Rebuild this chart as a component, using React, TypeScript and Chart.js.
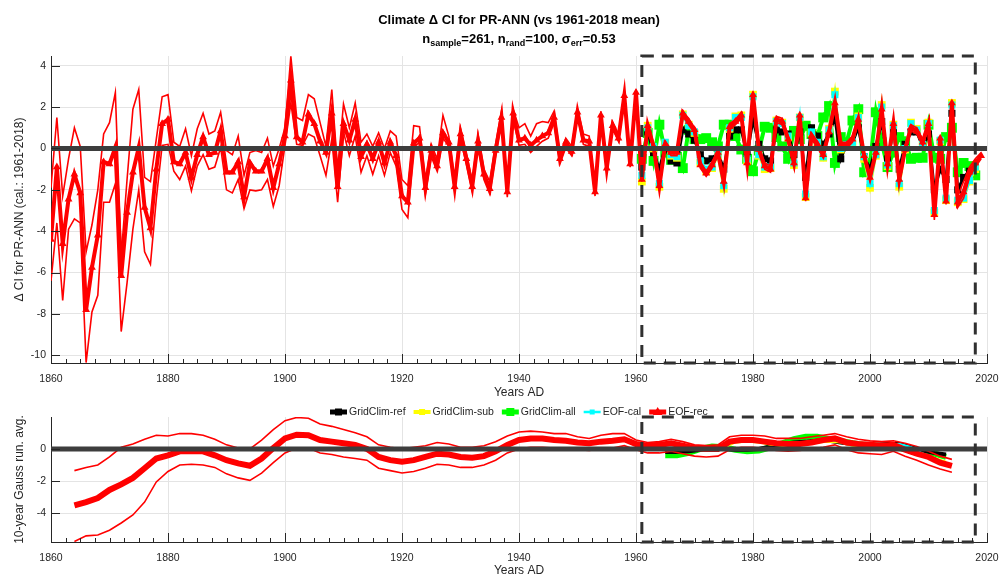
import React, { useEffect, useRef } from 'react';
import { Chart, registerables } from 'chart.js';

Chart.register(...registerables);

// ---------- text ----------
const TITLE = 'Climate \u0394 CI for PR-ANN (vs 1961-2018 mean)';
const N_SAMPLE = 261;
const N_RAND = 100;
const SIGMA_ERR = 0.53;
const TOP_Y_TITLE = '\u0394 CI for PR-ANN (cal.: 1961-2018)';
const BOTTOM_Y_TITLE = '10-year Gauss run. avg.';
const X_TITLE = 'Years AD';
const LEGEND_LABELS = ['GridClim-ref', 'GridClim-sub', 'GridClim-all', 'EOF-cal', 'EOF-rec'];

// ---------- axes ----------
const X_MIN = 1860;
const X_MAX = 2020;
const X_TICKS = [1860, 1880, 1900, 1920, 1940, 1960, 1980, 2000, 2020];
const TOP_Y_MIN = -10.37;
const TOP_Y_MAX = 4.47;
const TOP_Y_TICKS = [-10, -8, -6, -4, -2, 0, 2, 4];
const BOT_Y_MIN = -5.78;
const BOT_Y_MAX = 1.98;
const BOT_Y_TICKS = [-4, -2, 0];
const CAL_FROM = 1961;
const CAL_TO = 2018;

// ---------- annual reconstruction (EOF-rec), 1860-2019 ----------
const REC_START = 1860;
const REC_MEAN = [
  -4.4, -0.9, -4.6, -2.45, -1.25, -2.15, -7.8, -5.75, -4.2, -0.65,
  -0.75, 0.05, -6.15, -3.1, -1.15, 0.05, -2.85, -3.85, -1.0, 1.2,
  1.4, -0.65, -0.75, -0.2, -1.4, -0.3, 0.55, -0.3, -0.2, 0.85,
  -1.15, -1.15, -0.65, -2.35, -0.7, -1.1, -1.1, -0.5, -1.9, -0.75,
  0.6, 3.3, 0.55, 0.3, 1.65, 1.2, 0.35, -0.2, 1.7, -1.85,
  1.2, 0.4, 1.4, -0.4, 0.2, -0.5, 0.3, -0.7, 0.3, -0.35,
  -2.3, -2.6, 0.25, 0.5, -1.9, -0.1, -0.85, 0.75, 0.3, -1.85,
  0.7, -0.5, -1.85, 0.35, -1.25, -1.95, -0.1, 1.5, -2.1, 1.7,
  0.4, 0.5, 0.15, 0.4, 0.6, 0.75, 1.5, -0.5, 0.3, -0.15,
  1.75, 0.4, 0.35, -2.1, 1.6, -0.95, 1.1, 0.5, 2.55, -0.75,
  2.7, -1.5, 1.1, 0.1, -1.8, 0.2, -0.2, -0.2, 1.7, 1.3,
  0.9, -0.8, -1.2, -0.8, -0.2, -1.6, 1.05, 1.3, 1.6, -0.7,
  2.6, -0.05, -0.85, -1.0, 1.4, 1.3, 0.45, -0.7, 1.6, -2.4,
  0.6, 0.2, -0.3, 0.8, 2.2, 0.2, 0.15, 0.45, 1.4, -0.35,
  -1.4, -0.2, 1.9, -0.75, 1.2, -1.5, -0.05, 1.0, 0.85, 0.3,
  1.2, -3.2, 0.5, -2.55, 2.2, -2.6, -2.1, -1.15, -0.7, -0.35,
];
const REC_UPPER = [
  -1.9, 1.5, -2.3, -0.5, 1.0, 0.1, -5.0, -3.7, -2.0, 0.7,
  1.25, 2.7, -5.2, -1.5, 1.9, 2.85, -1.4, -1.6, 0.45, 2.5,
  2.6, 0.3, 0.1, 0.95, -0.35, 0.95, 1.7, 0.7, 0.85, 1.75,
  -0.1, -0.3, 0.6, -1.3, -0.2, -0.1, -0.2, 0.5, -0.85, 0.0,
  1.0, 4.45, 1.5, 1.35, 2.6, 2.4, 1.25, 0.1, 2.85, -1.0,
  2.15, 1.0, 2.2, 0.3, 0.7, 0.1, 0.75, 0.0, 0.85, 0.6,
  -1.5, -1.8, 1.1, 1.05, -1.6, 0.2, -0.5, 1.6, 0.6, -1.5,
  1.0, -0.2, -1.6, 0.7, -1.0, -1.6, 0.2, 1.8, -1.8, 1.9,
  1.0, 1.2, 0.6, 1.2, 1.3, 1.25, 1.8, -0.3, 0.5, 0.1,
  1.9, 0.7, 0.6, -1.9, 1.8, -0.8, 1.3, 0.7, 2.7, -0.6,
  2.85, -1.4, 1.2, 0.25, -1.7, 0.35, -0.05, -0.05, 1.8, 1.45,
  1.0, -0.65, -1.1, -0.65, -0.1, -1.5, 1.2, 1.4, 1.75, -0.6,
  2.75, 0.1, -0.7, -0.85, 1.55, 1.45, 0.6, -0.6, 1.7, -2.3,
  0.75, 0.35, -0.15, 0.95, 2.35, 0.3, 0.3, 0.6, 1.5, -0.2,
  -1.3, -0.05, 2.0, -0.6, 1.35, -1.4, 0.1, 1.15, 1.0, 0.45,
  1.3, -3.05, 0.6, -2.4, 2.3, -2.3, -1.6, -0.9, -0.5, -0.2,
];
const REC_LOWER = [
  -6.4, -3.6, -7.35, -3.9, -3.4, -3.6, -10.35, -7.9, -7.1, -2.6,
  -2.6, -1.7, -8.85, -6.5, -3.9, -2.0, -5.0, -5.6, -2.45, 0.15,
  0.2, -1.1, -1.5, -0.85, -2.05, -0.85, -0.3, -1.0, -0.9, 0.05,
  -2.0, -2.15, -1.5, -2.9, -2.0, -2.05, -2.0, -1.5, -2.8, -1.8,
  0.15, 2.2, 0.2, 0.15, 0.7, 0.55, -0.35, -1.3, 0.45, -2.6,
  0.8, -0.35, 0.6, -1.15, -0.35, -1.25, -0.35, -1.3, -0.2, -0.85,
  -2.95, -3.35, 0.05, 0.3, -2.2, -0.4, -1.1, 0.5, 0.1, -2.05,
  0.45, -0.75, -2.05, 0.1, -1.5, -2.2, -0.35, 1.3, -2.35, 1.45,
  0.15, 0.2, -0.2, 0.1, 0.35, 0.5, 1.25, -0.75, 0.05, -0.35,
  1.55, 0.2, 0.1, -2.3, 1.4, -1.1, 0.95, 0.35, 2.4, -0.9,
  2.55, -1.6, 0.95, -0.05, -1.95, 0.05, -0.35, -0.35, 1.55, 1.15,
  0.75, -0.95, -1.35, -0.95, -0.35, -1.75, 0.9, 1.15, 1.45, -0.85,
  2.45, -0.2, -1.0, -1.15, 1.25, 1.15, 0.3, -0.85, 1.45, -2.55,
  0.45, 0.05, -0.45, 0.65, 2.05, 0.05, 0.0, 0.3, 1.25, -0.5,
  -1.55, -0.35, 1.75, -0.9, 1.05, -1.65, -0.2, 0.85, 0.7, 0.15,
  1.05, -3.45, 0.3, -2.7, 2.05, -2.85, -2.4, -1.4, -0.9, -0.5,
];

// ---------- calibration period series, 1961-2018 ----------
const CAL_START = 1961;
const CAL_EOF = [
  -1.3, 1.0, 0.1, -1.7, 0.3, -0.3, -0.4, 1.6, 1.1, 0.8,
  -0.6, -1.0, -0.9, -0.3, -1.8, 1.0, 1.5, 1.5, -0.5, 2.5,
  -0.3, -0.9, -0.9, 1.3, 1.2, 0.6, -0.7, 1.5, -2.2, 0.8,
  0.3, -0.4, 0.9, 2.6, 0.0, 0.2, 0.3, 1.5, -0.4, -1.7,
  -0.3, 2.0, -0.8, 1.1, -1.7, 0.0, 1.2, 0.9, 0.2, 1.2,
  -3.0, 0.4, -2.4, 2.1, -2.5, -2.4, -1.55, -0.9,
];
const CAL_SUB = [
  -1.6, 1.1, 0.0, -1.85, 0.25, -0.35, -0.45, 1.65, 1.15, 0.75,
  -0.7, -1.1, -0.95, -0.35, -1.95, 0.95, 1.55, 1.6, -0.6, 2.6,
  -0.35, -1.0, -0.95, 1.35, 1.25, 0.55, -0.8, 1.5, -2.35, 0.75,
  0.25, -0.45, 0.95, 2.75, -0.05, 0.15, 0.25, 1.55, -0.5, -1.9,
  -0.35, 2.1, -0.85, 1.15, -1.85, -0.05, 1.25, 0.95, 0.15, 1.25,
  -3.1, 0.35, -2.5, 2.2, -2.6, -2.45, -1.6, -1.0,
];
const CAL_REF = [
  -0.9, 0.8, -0.2, -1.0, 0.1, -0.6, -0.7, 0.9, 0.7, 0.4,
  -0.3, -0.6, -0.5, -0.2, -1.0, 0.6, 0.9, 0.9, -0.3, 1.4,
  0.2, -0.5, -0.6, 0.9, 0.8, 0.7, -0.3, 0.8, -1.4, 1.0,
  0.6, 0.2, 0.7, 1.5, -0.5, 0.2, 0.3, 1.0, -0.4, -1.0,
  0.1, 1.3, -0.5, 0.8, -1.0, 0.2, 0.8, 0.8, 0.1, 0.7,
  -2.0, -1.0, -1.5, 1.7, -2.0, -1.4, -1.1, -0.9,
];
const CAL_ALL = [
  -0.5, 0.75, -0.6, 1.15, -0.2, -0.55, -0.4, -0.95, 0.9, 0.45,
  0.45, 0.5, 0.3, 0.1, 1.15, 1.15, 0.6, -0.05, -0.5, -1.1,
  -0.1, 1.05, 1.0, 0.55, 0.1, -0.5, 0.85, 0.45, 1.1, 0.7,
  0.6, 1.5, 2.05, -0.7, 0.55, 0.3, 1.35, 1.9, -1.15, -0.7,
  1.75, 0.3, -0.9, -0.2, 0.55, 0.35, -0.5, -0.45, -0.45, 1.15,
  -0.45, -0.5, 0.55, 1.0, -1.15, -0.7, -0.85, -1.3,
];

// ---------- 10-year Gauss running averages (every 2 years), 1864-2014 ----------
const RUN_START = 1864;
const RUN_STEP = 2;
const RUN_MEAN = [
  -3.5, -3.3, -3.05, -2.55, -2.2, -1.8, -1.2, -0.6, -0.4, -0.15,
  -0.15, -0.15, -0.4, -0.7, -0.9, -1.05, -0.6, 0.05, 0.65, 0.88,
  0.85, 0.55, 0.45, 0.35, 0.25, 0.0, -0.5, -0.7, -0.8, -0.7,
  -0.5, -0.3, -0.35, -0.5, -0.55, -0.45, -0.15, 0.25, 0.55, 0.65,
  0.65, 0.55, 0.5, 0.4, 0.35, 0.45, 0.5, 0.6, 0.3, 0.2,
  0.25, 0.35, 0.2, 0.05, 0.0, 0.0, 0.45, 0.55, 0.55, 0.45,
  0.35, 0.3, 0.3, 0.4, 0.55, 0.65, 0.4, 0.3, 0.25, 0.2,
  0.25, -0.05, -0.3, -0.5, -0.85, -1.05,
];
const RUN_UPPER = [
  -1.35, -1.15, -1.0, -0.5, 0.1, 0.3, 0.6, 0.85, 0.8, 0.95,
  0.95, 0.85, 0.6, 0.25, 0.05, 0.0, 0.55, 1.2, 1.75, 1.95,
  1.9, 1.55, 1.4, 1.2, 1.0, 0.75, 0.25, 0.1, 0.0, 0.1,
  0.2, 0.4, 0.3, 0.1, 0.1, 0.2, 0.45, 0.8, 1.05, 1.1,
  1.05, 0.95, 0.95, 0.75, 0.65, 0.85, 0.95, 0.95, 0.55, 0.4,
  0.45, 0.6, 0.45, 0.25, 0.2, 0.25, 0.75, 0.85, 0.85, 0.8,
  0.65, 0.65, 0.65, 0.75, 0.85, 0.95, 0.75, 0.6, 0.5, 0.45,
  0.5, 0.35, 0.15, -0.15, -0.45, -0.65,
];
const RUN_LOWER = [
  -5.75, -5.4, -5.35, -5.05, -4.6, -4.1, -3.3, -2.05, -1.4, -1.0,
  -0.95, -1.0, -1.15, -1.55, -1.8, -1.95, -1.5, -0.85, -0.25, 0.05,
  0.05, -0.25, -0.35, -0.5, -0.6, -0.7, -1.2, -1.35, -1.5, -1.4,
  -1.2, -0.95, -1.0, -1.15, -1.15, -1.0, -0.7, -0.25, 0.0, 0.1,
  0.1, 0.05, 0.0, -0.05, -0.1, 0.0, 0.05, 0.2, -0.05, -0.25,
  -0.25, -0.15, -0.3, -0.45, -0.5, -0.45, -0.05, 0.1, 0.1, 0.0,
  -0.1, -0.15, -0.1, 0.0, 0.1, 0.25, -0.05, -0.25, -0.3, -0.35,
  -0.15, -0.45, -0.7, -1.0, -1.25, -1.45,
];
const RUN_CAL_START = 1965;
const RUN_CAL_ALL = [
  -0.4, -0.4, -0.25, 0.0, 0.15, 0.1, -0.05, -0.15, -0.1, 0.1,
  0.35, 0.6, 0.75, 0.75, 0.6, 0.5, 0.35, 0.25, 0.2, 0.15,
  0.05, -0.05, -0.2, -0.3, -0.5,
];
const RUN_CAL_EOF = [
  0.05, 0.1, 0.0, 0.0, 0.05, 0.1, 0.55, 0.6, 0.55, 0.35,
  0.3, 0.3, 0.4, 0.45, 0.55, 0.5, 0.4, 0.3, 0.25, 0.25,
  0.3, 0.1, -0.3, -0.6, -0.9,
];
const RUN_CAL_REF = [
  -0.2, -0.2, -0.15, -0.05, 0.0, 0.0, -0.05, -0.05, 0.0, 0.15,
  0.3, 0.4, 0.45, 0.5, 0.5, 0.4, 0.3, 0.3, 0.25, 0.3,
  0.3, 0.1, -0.1, -0.25, -0.35,
];
const RUN_CAL_SUB = [
  0.0, 0.05, -0.05, -0.05, 0.0, 0.05, 0.4, 0.45, 0.4, 0.25,
  0.2, 0.2, 0.3, 0.4, 0.45, 0.4, 0.2, 0.1, 0.0, 0.05,
  0.15, 0.0, -0.3, -0.55, -0.8,
];

// ---------- styling ----------
const FONT = '"Liberation Sans", Arial, Helvetica, sans-serif';
const TEXT = '#262626';
const GRID = '#e4e4e4';
const RED = '#ff0000';
const GREEN = '#00ff00';
const CYAN = '#00ffff';
const YELLOW = '#ffff00';
const BLACK = '#000000';

const pts = (start: number, step: number, vals: number[]) =>
  vals.map((v, i) => ({ x: start + i * step, y: v }));

function drawMarker(ctx: CanvasRenderingContext2D, kind: string, x: number, y: number, s: number, color: string) {
  ctx.fillStyle = color;
  ctx.beginPath();
  if (kind === 'triangle') {
    ctx.moveTo(x, y - s);
    ctx.lineTo(x + s * 0.95, y + s * 0.6);
    ctx.lineTo(x - s * 0.95, y + s * 0.6);
    ctx.closePath();
  } else {
    ctx.rect(x - s, y - s, 2 * s, 2 * s);
  }
  ctx.fill();
}

const axisTicksPlugin = {
  id: 'axisTicks',
  afterDraw(chart: any) {
    const { ctx, chartArea: a, scales } = chart;
    const x = scales.x;
    const y = scales.y;
    ctx.save();
    ctx.strokeStyle = TEXT;
    ctx.lineWidth = 1;
    ctx.beginPath();
    X_TICKS.forEach((v) => {
      const px = Math.round(x.getPixelForValue(v)) + 0.5;
      ctx.moveTo(px, a.bottom);
      ctx.lineTo(px, a.bottom - 9);
    });
    for (let v = X_MIN; v <= X_MAX; v += 2.5) {
      const px = Math.round(x.getPixelForValue(v)) + 0.5;
      ctx.moveTo(px, a.bottom);
      ctx.lineTo(px, a.bottom - 4);
    }
    y.ticks.forEach((t: any) => {
      const py = Math.round(y.getPixelForValue(t.value)) + 0.5;
      ctx.moveTo(a.left, py);
      ctx.lineTo(a.left + 9, py);
    });
    ctx.stroke();
    ctx.restore();
  },
};

const overlayPlugin = {
  id: 'overlay',
  afterDatasetsDraw(chart: any) {
    const { ctx, chartArea: a, scales } = chart;
    const x = scales.x;
    const y = scales.y;
    ctx.save();
    const y0 = y.getPixelForValue(0);
    ctx.strokeStyle = '#3d3d3d';
    ctx.lineWidth = 5;
    ctx.beginPath();
    ctx.moveTo(a.left, y0);
    ctx.lineTo(a.right, y0);
    ctx.stroke();
    const x1 = x.getPixelForValue(CAL_FROM);
    const x2 = x.getPixelForValue(CAL_TO);
    ctx.strokeStyle = '#303030';
    ctx.lineWidth = 3;
    ctx.setLineDash([12, 8]);
    ctx.strokeRect(x1, a.top, x2 - x1, a.bottom - a.top);
    ctx.restore();
  },
};

const LEGEND_STYLES = [
  { color: BLACK, lw: 5, marker: 'rect', ms: 3.5 },
  { color: YELLOW, lw: 4, marker: 'rect', ms: 3 },
  { color: GREEN, lw: 5, marker: 'rect', ms: 4 },
  { color: CYAN, lw: 2.5, marker: 'rect', ms: 2.5 },
  { color: RED, lw: 5, marker: 'triangle', ms: 5 },
];

const legendPlugin = {
  id: 'mlLegend',
  afterDraw(chart: any) {
    const ctx = chart.ctx;
    ctx.save();
    ctx.font = `10.5px ${FONT}`;
    ctx.textBaseline = 'middle';
    let x = 330;
    const y = 12;
    LEGEND_LABELS.forEach((label, i) => {
      const st = LEGEND_STYLES[i];
      ctx.strokeStyle = st.color;
      ctx.lineWidth = st.lw;
      ctx.beginPath();
      ctx.moveTo(x, y);
      ctx.lineTo(x + 17, y);
      ctx.stroke();
      drawMarker(ctx, st.marker, x + 8.5, y, st.ms, st.color);
      ctx.fillStyle = TEXT;
      ctx.fillText(label, x + 19, y);
      x += 19 + ctx.measureText(label).width + 8;
    });
    ctx.restore();
  },
};

function makeScales(yMin: number, yMax: number, yTicks: number[], yTitle: string, xHeight: number, xTitleLH: number) {
  const tickFont = { family: FONT, size: 10.5 };
  const titleFont = { family: FONT, size: 12 };
  return {
    x: {
      type: 'linear',
      min: X_MIN,
      max: X_MAX,
      afterBuildTicks: (s: any) => { s.ticks = X_TICKS.map((v) => ({ value: v })); },
      afterFit: (s: any) => { s.height = xHeight; s.paddingLeft = 0; s.paddingRight = 0; },
      grid: { color: GRID, lineWidth: 1, drawTicks: false },
      border: { display: true, color: TEXT, width: 1 },
      ticks: { font: tickFont, color: TEXT, padding: 9.5, maxRotation: 0, autoSkip: false, callback: (v: any) => String(v) },
      title: { display: true, text: X_TITLE, font: { ...titleFont, lineHeight: xTitleLH }, color: TEXT, padding: 0 },
    },
    y: {
      type: 'linear',
      min: yMin,
      max: yMax,
      afterBuildTicks: (s: any) => { s.ticks = yTicks.map((v) => ({ value: v })); },
      afterFit: (s: any) => { s.width = 51; s.paddingTop = 0; s.paddingBottom = 0; },
      grid: { color: GRID, lineWidth: 1, drawTicks: false },
      border: { display: true, color: TEXT, width: 1 },
      ticks: { font: tickFont, color: TEXT, padding: 5, callback: (v: any) => String(v) },
      title: { display: true, text: yTitle, font: titleFont, color: TEXT, padding: { top: 12, bottom: 0 } },
    },
  };
}

export default function App() {
  const topRef = useRef<HTMLCanvasElement>(null);
  const botRef = useRef<HTMLCanvasElement>(null);

  useEffect(() => {
    const common = {
      responsive: false,
      animation: false,
      devicePixelRatio: 1,
      plugins: { legend: { display: false }, tooltip: { enabled: false }, title: { display: false } },
      elements: { line: { tension: 0 } },
      events: [],
    };

    const top = new Chart(topRef.current as HTMLCanvasElement, {
      type: 'line',
      data: {
        datasets: [
          { label: 'EOF-rec', data: pts(REC_START, 1, REC_MEAN), borderColor: RED, backgroundColor: RED, borderWidth: 4, pointStyle: 'triangle', pointRadius: 4.5, pointBorderWidth: 0, pointBackgroundColor: RED },
          { label: 'EOF-rec upper', data: pts(REC_START, 1, REC_UPPER), borderColor: RED, borderWidth: 1.6, pointRadius: 0 },
          { label: 'EOF-rec lower', data: pts(REC_START, 1, REC_LOWER), borderColor: RED, borderWidth: 1.6, pointRadius: 0 },
          { label: 'EOF-cal', data: pts(CAL_START, 1, CAL_EOF), borderColor: CYAN, backgroundColor: CYAN, borderWidth: 2.5, pointStyle: 'rect', pointRadius: 5, pointBorderWidth: 0 },
          { label: 'GridClim-sub', data: pts(CAL_START, 1, CAL_SUB), borderColor: YELLOW, backgroundColor: YELLOW, borderWidth: 2.5, pointStyle: 'rect', pointRadius: 5.5, pointBorderWidth: 0 },
          { label: 'GridClim-ref', data: pts(CAL_START, 1, CAL_REF), borderColor: BLACK, backgroundColor: BLACK, borderWidth: 3, pointStyle: 'rect', pointRadius: 5, pointBorderWidth: 0 },
          { label: 'GridClim-all', data: pts(CAL_START, 1, CAL_ALL), borderColor: GREEN, backgroundColor: GREEN, borderWidth: 4, pointStyle: 'rect', pointRadius: 7, pointBorderWidth: 0 },
        ],
      },
      options: {
        ...common,
        layout: { padding: { left: 0, right: 13, top: 56, bottom: 0 } },
        scales: makeScales(TOP_Y_MIN, TOP_Y_MAX, TOP_Y_TICKS, TOP_Y_TITLE, 37, 1.2),
      } as any,
      plugins: [overlayPlugin, axisTicksPlugin],
    } as any);

    const bot = new Chart(botRef.current as HTMLCanvasElement, {
      type: 'line',
      data: {
        datasets: [
          { label: 'EOF-rec', data: pts(RUN_START, RUN_STEP, RUN_MEAN), borderColor: RED, borderWidth: 6, pointRadius: 0 },
          { label: 'EOF-rec upper', data: pts(RUN_START, RUN_STEP, RUN_UPPER), borderColor: RED, borderWidth: 1.6, pointRadius: 0 },
          { label: 'EOF-rec lower', data: pts(RUN_START, RUN_STEP, RUN_LOWER), borderColor: RED, borderWidth: 1.6, pointRadius: 0 },
          { label: 'EOF-cal', data: pts(RUN_CAL_START, RUN_STEP, RUN_CAL_EOF), borderColor: CYAN, borderWidth: 2.5, pointRadius: 0 },
          { label: 'GridClim-sub', data: pts(RUN_CAL_START, RUN_STEP, RUN_CAL_SUB), borderColor: YELLOW, borderWidth: 2, pointRadius: 0 },
          { label: 'GridClim-ref', data: pts(RUN_CAL_START, RUN_STEP, RUN_CAL_REF), borderColor: BLACK, borderWidth: 4, pointRadius: 0 },
          { label: 'GridClim-all', data: pts(RUN_CAL_START, RUN_STEP, RUN_CAL_ALL), borderColor: GREEN, borderWidth: 6, pointRadius: 0 },
        ],
      },
      options: {
        ...common,
        layout: { padding: { left: 0, right: 13, top: 17, bottom: 0 } },
        scales: makeScales(BOT_Y_MIN, BOT_Y_MAX, BOT_Y_TICKS, BOTTOM_Y_TITLE, 33, 0.7),
      } as any,
      plugins: [overlayPlugin, axisTicksPlugin, legendPlugin],
    } as any);

    return () => {
      top.destroy();
      bot.destroy();
    };
  }, []);

  const subStyle: React.CSSProperties = { fontSize: 9, position: 'relative', top: 3 };
  return (
    <div style={{ position: 'absolute', left: 0, top: 0, width: 1000, height: 575, background: '#fff', fontFamily: FONT, overflow: 'hidden' }}>
      <canvas ref={topRef} width={1000} height={400} style={{ position: 'absolute', left: 0, top: 0 }} />
      <canvas ref={botRef} width={1000} height={175} style={{ position: 'absolute', left: 0, top: 400 }} />
      <div style={{ position: 'absolute', left: 51, width: 936, top: 12, textAlign: 'center', fontWeight: 'bold', fontSize: 13, lineHeight: '16px', color: '#000' }}>
        {TITLE}
      </div>
      <div style={{ position: 'absolute', left: 51, width: 936, top: 31, textAlign: 'center', fontWeight: 'bold', fontSize: 13, lineHeight: '16px', color: '#000', whiteSpace: 'nowrap' }}>
        n<span style={subStyle}>sample</span>={N_SAMPLE}, n<span style={subStyle}>rand</span>={N_RAND}, {'\u03c3'}<span style={subStyle}>err</span>={SIGMA_ERR}
      </div>
    </div>
  );
}
